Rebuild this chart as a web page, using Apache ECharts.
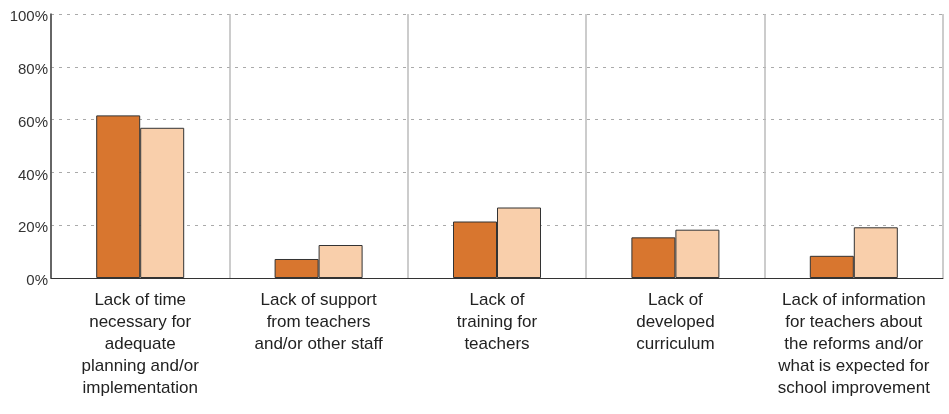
<!DOCTYPE html>
<html>
<head>
<meta charset="utf-8">
<script src="https://cdn.jsdelivr.net/npm/echarts@6/dist/echarts.min.js"></script>
<style>
html,body{margin:0;padding:0;background:#fff;}
#chart{width:949px;height:414px;}
</style>
</head>
<body>
<div id="chart"></div>
<script>
var categories = [
  "Lack of time\nnecessary for\nadequate\nplanning and/or\nimplementation",
  "Lack of support\nfrom teachers\nand/or other staff",
  "Lack of\ntraining for\nteachers",
  "Lack of\ndeveloped\ncurriculum",
  "Lack of information\nfor teachers about\nthe reforms and/or\nwhat is expected for\nschool improvement"
];
var seriesA = [61.6, 7.2, 21.4, 15.4, 8.4];
var seriesB = [56.9, 12.5, 26.7, 18.3, 19.2];
var yTicks = [0, 20, 40, 60, 80, 100];

var chart = echarts.init(document.getElementById('chart'));
chart.setOption({
  animation: false,
  backgroundColor: '#ffffff',
  grid: {left: 51, right: 6, top: 14, bottom: 136, containLabel: false},
  xAxis: {
    type: 'category',
    data: categories,
    boundaryGap: true,
    axisLine: {show: true, lineStyle: {color: '#333333', width: 1}},
    axisTick: {show: false},
    splitLine: {show: true, lineStyle: {color: '#bbbbbb', width: 1.5, type: 'solid'}},
    axisLabel: {
      interval: 0,
      margin: 11,
      color: '#222222',
      fontFamily: 'Liberation Sans, Arial, sans-serif',
      fontSize: 17,
      lineHeight: 22
    }
  },
  yAxis: {
    type: 'value',
    min: 0,
    max: 100,
    interval: 20,
    axisLine: {show: true, lineStyle: {color: '#444444', width: 1.5}},
    axisTick: {show: false},
    splitLine: {show: true, lineStyle: {color: '#aaaaaa', width: 1, type: [3, 5]}},
    axisLabel: {
      margin: 3,
      color: '#333333',
      fontFamily: 'Liberation Sans, Arial, sans-serif',
      fontSize: 15,
      formatter: function (v) { return yTicks.indexOf(v) >= 0 ? '{t|' + v + '%}' : ''; },
      rich: {
        t: {
          fontFamily: 'Liberation Sans, Arial, sans-serif',
          fontSize: 15,
          color: '#333333',
          padding: [6, 0, 0, 0]
        }
      }
    }
  },
  series: [
    {
      name: 'A',
      type: 'bar',
      data: seriesA,
      barWidth: 44,
      barGap: '0%',
      itemStyle: {color: '#d8762f', borderColor: '#333333', borderWidth: 1}
    },
    {
      name: 'B',
      type: 'bar',
      data: seriesB,
      barWidth: 44,
      itemStyle: {color: '#f9cfab', borderColor: '#333333', borderWidth: 1}
    }
  ]
});
</script>
</body>
</html>
